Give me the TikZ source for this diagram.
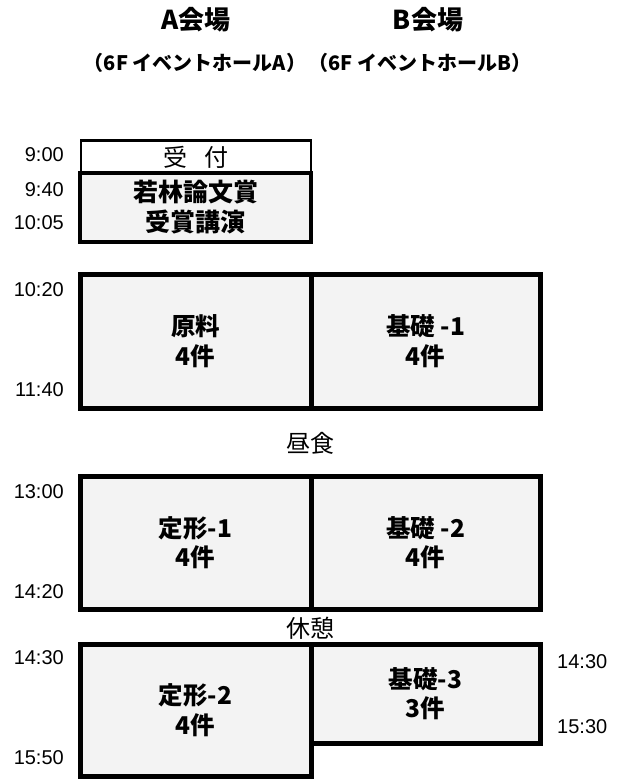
\documentclass[tikz,border=0pt]{standalone}
\usepackage{fontspec}
\setmainfont{Liberation Sans}
\newfontfamily\jp{Noto Sans CJK JP}
\definecolor{boxfill}{HTML}{F3F3F3}
\tikzset{
  sess/.style={draw=black, line width=5pt, fill=boxfill, rectangle, inner sep=0pt, outer sep=0pt, align=center,
    font=\jp\bfseries\fontsize{24.5}{29.5}\selectfont},
  tlabel/.style={inner sep=0pt, font=\fontsize{20}{20}\selectfont},
  head/.style={inner sep=0pt, font=\jp\bfseries\fontsize{26}{26}\selectfont},
  sub/.style={inner sep=0pt, font=\jp\bfseries\fontsize{20}{20}\selectfont},
  brk/.style={inner sep=0pt, font=\jp\fontsize{24}{24}\selectfont},
}
\begin{document}
\begin{tikzpicture}[x=1pt,y=-1pt]
\useasboundingbox (0,0) rectangle (619,780);
% headers
\node[head] (hA) at (196,20) {A会場};
\node[head] (hB) at (428,20) {B会場};
\node[sub] (sA) at (195,63) {（6F イベントホールA）};
\node[sub] (sB) at (420,63) {（6F イベントホールB）};
% reception and lecture
\node[draw=black, line width=2.5pt, fill=white, rectangle, inner sep=0pt, minimum width=230, minimum height=33,
  font=\jp\fontsize{24}{24}\selectfont] (uke) at (196,157) {受\hspace{0.7em}付};
\node[sess, line width=4pt, minimum width=231, minimum height=69, font=\jp\bfseries\fontsize{25}{30}\selectfont] (waka) at (195.5,207.5) {若林論文賞\\受賞講演};
% row 1
\node[sess, minimum width=231, minimum height=134] (r1a) at (195.5,341) {原料\\4件};
\node[sess, minimum width=229, minimum height=134] (r1b) at (425.5,341) {基礎 -1\\4件};
\node[brk] (lunch) at (310,443) {昼食};
% row 2
\node[sess, minimum width=231, minimum height=133] (r2a) at (195.5,542.5) {定形-1\\4件};
\node[sess, minimum width=229, minimum height=133] (r2b) at (425.5,542.5) {基礎 -2\\4件};
\node[brk] (rest) at (310,628) {休憩};
% row 3
\node[sess, minimum width=231, minimum height=132] (r3a) at (195.5,710) {定形-2\\4件};
\node[sess, minimum width=229, minimum height=99] (r3b) at (425.5,693.5) {基礎-3\\3件};
% time labels
\node[tlabel, anchor=east] (t1) at (64,155) {9:00};
\node[tlabel, anchor=east] (t2) at (64,190) {9:40};
\node[tlabel, anchor=east] (t3) at (64,223) {10:05};
\node[tlabel, anchor=east] (t4) at (64,290) {10:20};
\node[tlabel, anchor=east] (t5) at (64,390) {11:40};
\node[tlabel, anchor=east] (t6) at (64,492) {13:00};
\node[tlabel, anchor=east] (t7) at (64,592) {14:20};
\node[tlabel, anchor=east] (t8) at (64,658) {14:30};
\node[tlabel, anchor=east] (t9) at (64,758) {15:50};
\node[tlabel, anchor=west] (t10) at (557,662) {14:30};
\node[tlabel, anchor=west] (t11) at (557,727) {15:30};
\end{tikzpicture}
\end{document}
